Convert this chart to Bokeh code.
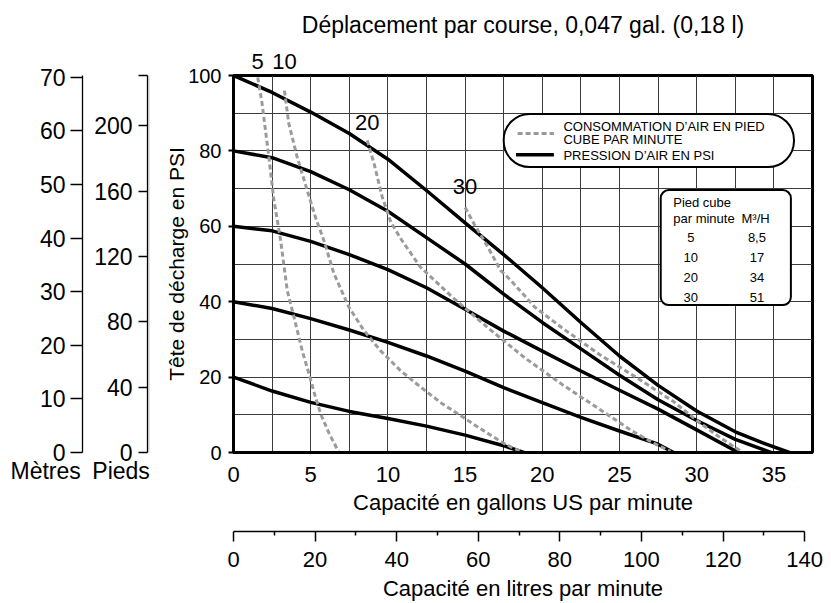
from bokeh.plotting import figure
from bokeh.layouts import row
from bokeh.models import (Range1d, LinearAxis, FixedTicker, ColumnDataSource,
                          LabelSet, Title)
from bokeh.core.properties import value
from bokeh.embed import file_html
from bokeh.resources import INLINE

FONT = "Liberation Sans"

# ---------------- data ----------------
gpm_ticks = [0, 5, 10, 15, 20, 25, 30, 35]
psi_ticks = [0, 20, 40, 60, 80, 100]
grid_x = [0, 2.5, 5, 7.5, 10, 12.5, 15, 17.5, 20, 22.5, 25, 27.5, 30, 32.5, 35, 37.5]
grid_y = [0, 10, 20, 30, 40, 50, 60, 70, 80, 90, 100]
litre_ticks = [0, 20, 40, 60, 80, 100, 120, 140]
litre_minor = [10, 30, 50, 70, 90, 110, 130]
metre_ticks = [0, 10, 20, 30, 40, 50, 60, 70]
feet_ticks = [0, 40, 80, 120, 160, 200]

# air pressure curves (psi)
p100_x = [0, 2.5, 5, 7.5, 10, 12.5, 15, 17.5, 20, 22.5, 25, 27.5, 30, 32.5, 34.5, 36]
p100_y = [100, 95.5, 90.3, 84.6, 77.8, 69.5, 60.9, 52.5, 43.7, 34.5, 25.6, 17.8, 11, 5.5, 2.2, 0]
p80_x = [0, 2.5, 5, 7.5, 10, 12.5, 15, 17.5, 20, 22.5, 25, 27.5, 30, 32.5, 34.8]
p80_y = [80, 78.2, 74.5, 69.7, 64, 57, 50, 42, 34.5, 27.5, 20.5, 14, 8.5, 3.5, 0]
p60_x = [0, 2.5, 5, 7.5, 10, 12.5, 15, 17.5, 20, 22.5, 25, 27.5, 30, 32.7]
p60_y = [60, 58.8, 56, 52.5, 48.5, 43.7, 38, 32.2, 26.9, 21.6, 16.5, 11.5, 6, 0]
p40_x = [0, 2.5, 5, 7.5, 10, 12.5, 15, 17.5, 20, 22.5, 25, 27.5, 28.5]
p40_y = [40, 38.2, 35.5, 32.5, 29.2, 25.6, 21.6, 17.2, 13.2, 9.3, 5.7, 2.2, 0]
p20_x = [0, 2.5, 5, 7.5, 10, 12.5, 15, 17.5, 18.8]
p20_y = [20, 16.3, 13.3, 10.9, 9, 7, 4.6, 1.8, 0]

# air consumption curves (SCFM)
c5_x = [1.57, 1.85, 2.29, 2.6, 3.05, 3.48, 4.02, 4.45, 4.88, 5.25, 5.64, 6.2, 6.83]
c5_y = [99.5, 92.6, 78.4, 67.5, 56.3, 43, 34.2, 27, 21, 15.5, 10.3, 5, 0]
c10_x = [3.3, 3.58, 4.12, 4.77, 5.3, 5.85, 6.5, 7.47, 8.44, 9.5, 10.8, 12.1, 13.5, 15, 16.3, 17.6, 18.6]
c10_y = [96, 87.3, 78.4, 69.6, 62.5, 56.3, 47.5, 38.6, 32.4, 27.1, 21.8, 17.4, 13, 9, 5.5, 2.2, 0.3]
c20_x = [8.66, 9.1, 9.63, 10.2, 10.9, 12.1, 12.8, 14.1, 16.5, 18.9, 21.3, 23.7, 25.7, 27.2, 28.3]
c20_y = [82.8, 76.7, 67.8, 61, 56.3, 49.2, 46.5, 41.5, 33, 25, 18, 11.5, 6, 2.5, 0.3]
c30_x = [15, 15.6, 16.5, 17.3, 18, 19.5, 21.3, 23.7, 26.1, 28.5, 30, 31.5, 33]
c30_y = [65, 60.5, 54.3, 48.3, 45.5, 38.6, 33, 26, 19.9, 13.5, 8.5, 4, 0]
cfm_labels = ["5", "10", "20", "30"]

table_cfm = ["5", "10", "20", "30"]
table_m3h = ["8,5", "17", "34", "51"]

GAL_TO_L = 3.785
M_TO_PSI = 1.4219
FT_TO_PSI = 0.4335


def style_axis(ax, size="22px"):
    ax.major_label_text_font = FONT
    ax.major_label_text_font_size = size
    ax.major_label_text_color = "black"
    ax.axis_label_text_font = FONT
    ax.axis_label_text_font_size = size
    ax.axis_label_text_font_style = "normal"
    ax.axis_label_text_color = "black"
    ax.axis_line_color = "black"
    ax.major_tick_line_color = "black"
    ax.minor_tick_line_color = "black"


def spacer(px):
    return LinearAxis(ticker=FixedTicker(ticks=[]), axis_line_color=None,
                      major_tick_line_color=None, minor_tick_line_color=None,
                      major_tick_out=0, major_tick_in=0, major_label_standoff=0,
                      axis_label="\u00a0", axis_label_standoff=0,
                      axis_label_text_font_size=f"{px}px")


LEFT_W = 150
TOTAL_W = 824
H = 603
TOP = 75
BOTTOM = 151
FEET_X = 147

# ================= left figure: metre / feet scales =================
ft_top = 100 / FT_TO_PSI
m_top = 100 / M_TO_PSI
lf = figure(width=LEFT_W, height=H, x_range=Range1d(0, 1), y_range=Range1d(0, ft_top),
            output_backend="svg", toolbar_location=None,
            x_axis_location=None, y_axis_location=None,
            min_border_left=FEET_X, min_border_right=0, min_border_top=TOP,
            min_border_bottom=BOTTOM)
lf.outline_line_color = None
lf.background_fill_color = "white"
lf.border_fill_color = "white"
lf.extra_y_ranges = {"m": Range1d(0, m_top)}

fa = LinearAxis(ticker=FixedTicker(ticks=feet_ticks + [ft_top]),
                bounds=(0, ft_top), major_label_overrides={ft_top: ""})
style_axis(fa, "23px")
fa.major_tick_out = 9
fa.major_tick_in = 0
fa.axis_line_width = 1.3
fa.major_tick_line_width = 1.3
fa.major_label_standoff = 6
lf.add_layout(fa, "left")
lf.add_layout(spacer(6), "left")

ma = LinearAxis(y_range_name="m", ticker=FixedTicker(ticks=metre_ticks), bounds=(0, m_top))
style_axis(ma, "23px")
ma.major_tick_out = 12
ma.major_tick_in = 0
ma.axis_line_width = 1.3
ma.major_tick_line_width = 1.3
ma.major_label_standoff = 5
lf.add_layout(ma, "left")

lf.add_layout(Title(text="Mètres\u2002Pieds", align="left", offset=10 - FEET_X, standoff=6,
                    text_font=FONT, text_font_size="23px", text_font_style="normal",
                    text_color="black"), "below")

# ================= main figure =================
p = figure(width=TOTAL_W - LEFT_W, height=H, x_range=Range1d(0, 37.5), y_range=Range1d(0, 100),
           output_backend="svg", toolbar_location=None,
           min_border_left=233 - LEFT_W, min_border_right=12, min_border_top=TOP,
           min_border_bottom=BOTTOM)
p.background_fill_color = "white"
p.border_fill_color = "white"
p.outline_line_color = "black"
p.outline_line_width = 3

p.xgrid.ticker = FixedTicker(ticks=grid_x)
p.ygrid.ticker = FixedTicker(ticks=grid_y)
for g in (p.xgrid[0], p.ygrid[0]):
    g.grid_line_color = "#3c3c3c"
    g.grid_line_width = 1
    g.grid_line_alpha = 1

# bottom gpm axis
xa = p.xaxis[0]
style_axis(xa)
xa.ticker = FixedTicker(ticks=gpm_ticks)
xa.major_tick_out = 0
xa.major_tick_in = 0
xa.axis_line_width = 3
xa.major_label_standoff = 14
xa.axis_label = "Capacité en gallons US par minute"
xa.axis_label_standoff = 5

p.add_layout(spacer(10), "below")

p.extra_x_ranges = {"litres": Range1d(0, 37.5 * GAL_TO_L)}
la = LinearAxis(x_range_name="litres",
                ticker=FixedTicker(ticks=litre_ticks, minor_ticks=litre_minor),
                bounds=(0, litre_ticks[-1]))
style_axis(la)
la.major_tick_out = 10
la.major_tick_in = 0
la.minor_tick_out = 4
la.minor_tick_in = 0
la.axis_line_width = 1.5
la.major_tick_line_width = 1.5
la.minor_tick_line_width = 1.5
la.major_label_standoff = 10
la.axis_label = "Capacité en litres par minute"
la.axis_label_standoff = 6
p.add_layout(la, "below")

# top: labels of the 5 and 10 SCFM curves (at the curves' start)
ta = LinearAxis(ticker=FixedTicker(ticks=[c5_x[0], c10_x[0]]),
                major_label_overrides={c5_x[0]: cfm_labels[0], c10_x[0]: cfm_labels[1]})
style_axis(ta)
ta.axis_line_color = None
ta.major_tick_line_color = None
ta.major_tick_out = 0
ta.major_tick_in = 0
ta.major_label_standoff = 7
p.add_layout(ta, "above")
p.add_layout(spacer(3), "above")
p.add_layout(Title(text="Déplacement par course, 0,047 gal. (0,18 l)", align="center",
                   text_font=FONT, text_font_size="23px", text_font_style="normal",
                   text_color="black", standoff=13), "above")

# left PSI axis
ya = p.yaxis[0]
style_axis(ya)
ya.major_label_text_font_size = "20px"
ya.axis_label_text_font_size = "21px"
ya.ticker = FixedTicker(ticks=psi_ticks)
ya.major_tick_out = 5
ya.major_tick_in = 0
ya.major_tick_line_width = 2
ya.axis_line_width = 3
ya.major_label_standoff = 7
ya.axis_label = "Tête de décharge en PSI"
ya.axis_label_standoff = -3

# ---------------- curves ----------------
for xs, ys in [(p100_x, p100_y), (p80_x, p80_y), (p60_x, p60_y), (p40_x, p40_y), (p20_x, p20_y)]:
    p.line(xs, ys, line_color="black", line_width=3.5, line_join="round", line_cap="round")

dash_curves = [(c5_x, c5_y), (c10_x, c10_y), (c20_x, c20_y), (c30_x, c30_y)]
for xs, ys in dash_curves:
    p.line(xs, ys, line_color="#9b9b9b", line_width=3, line_dash="5 3")

# labels of the 20 and 30 SCFM curves, above the start of each curve
lbl_src = ColumnDataSource(dict(x=[c20_x[0], c30_x[0]], y=[c20_y[0], c30_y[0]],
                                t=cfm_labels[2:], dy=[18, 21]))
p.add_layout(LabelSet(x="x", y="y", text="t", source=lbl_src, y_offset="dy",
                      text_font=value(FONT), text_font_size="22px",
                      text_align="center", text_baseline="middle", text_color="black"))

# ---------------- legend box ----------------
p.quad(left=[17.5], right=[36.3], top=[89.8], bottom=[75.7], fill_color="white",
       line_color="black", line_width=2, border_radius=26)
p.line([18.4, 20.75], [84.6, 84.6], line_color="#9b9b9b", line_width=3, line_dash="5 3")
p.line([18.3, 20.75], [79.0, 79.0], line_color="black", line_width=3.5)
p.text(x=[21.37, 21.37, 21.37], y=[86.4, 82.9, 78.9],
       text=["CONSOMMATION D’AIR EN PIED", "CUBE PAR MINUTE", "PRESSION D’AIR EN PSI"],
       text_font=value(FONT), text_font_size="13px", text_baseline="middle",
       text_align="left", text_color="black")

# ---------------- table box ----------------
p.quad(left=[27.67], right=[36.1], top=[69.6], bottom=[39.1], fill_color="white",
       line_color="black", line_width=2, border_radius=8)
p.text(x=[28.48, 28.48, 32.9], y=[66.2, 62.1, 62.1], text=["Pied cube", "par minute", "M³/H"],
       text_font=value(FONT), text_font_size="13px", text_baseline="middle",
       text_align="left", text_color="black")
row_y = [57.0, 51.7, 46.4, 41.1]
p.text(x=[29.62] * 4, y=row_y, text=table_cfm, text_font=value(FONT), text_font_size="13px",
       text_baseline="middle", text_align="center", text_color="black")
p.text(x=[33.9] * 4, y=row_y, text=table_m3h, text_font=value(FONT), text_font_size="13px",
       text_baseline="middle", text_align="center", text_color="black")

layout = row(lf, p)
open("out.html", "w").write(file_html(layout, INLINE))
